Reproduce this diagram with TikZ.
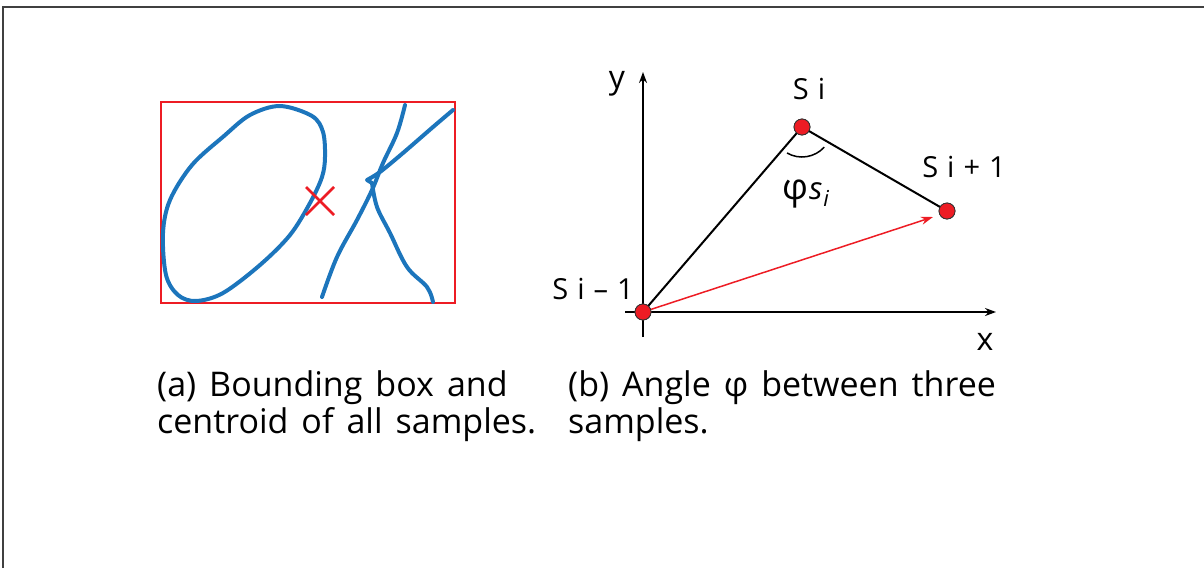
\documentclass[tikz,border=0pt]{standalone}
\usepackage{fontspec}
\setmainfont{Open Sans}
\usetikzlibrary{arrows.meta,calc}
\definecolor{strokeblue}{RGB}{28,117,188}
\definecolor{ptred}{RGB}{237,28,36}
\newcommand{\lblfont}{\fontsize{29}{32}\selectfont\spaceskip=9pt\relax}
\newcommand{\capfont}{\fontsize{34}{37}\selectfont\spaceskip=13pt plus 2pt\relax}
\tikzset{
  ink/.style={strokeblue,line width=4pt,line cap=round,line join=round},
  bbox/.style={draw=ptred,line width=1.5pt},
  seg/.style={black,line width=2pt},
  axis/.style={black,line width=1.8pt,-{Stealth[length=11pt,width=8pt]}},
  sample/.style={circle,fill=ptred,draw=black!80,line width=0.8pt,minimum size=16pt,inner sep=0pt},
  lbl/.style={font=\lblfont,inner sep=0pt},
  captext/.style={font=\capfont,align=left,anchor=north west,inner sep=0pt}
}
\begin{document}
\begin{tikzpicture}[x=1pt,y=-1pt]
\useasboundingbox (0,0) rectangle (1204,568);
% frame
\draw[black!75,line width=1.5pt] (3,568) -- (3,7) -- (1204,7);
% (a) bounding box
\draw[bbox] (161,102) rectangle (455,303);
\draw[ink] plot[smooth cycle,tension=0.55] coordinates {(196,301) (223,293) (260,265) (290,235) (310,203) (322,177) (325,157) (323,132) (312,116) (280,106) (250,115) (224,136) (192,165) (170,200) (163,233) (166,275) (178,295)};
\draw[ink] plot[smooth,tension=0.6] coordinates {(322,297) (337,257) (357,220) (372,190) (383,163) (397,133) (405,105)};
\draw[ink] plot[smooth,tension=0.5] coordinates {(453,110) (433,127) (403,153) (380,172) (367,180)} -- plot[smooth,tension=0.6] coordinates {(372,183) (377,207) (390,233) (407,267) (427,287) (433,302)};
\coordinate (cen) at (320,201);
\draw[ptred,line width=2.5pt] ($(cen)+(-14,-14)$) -- ($(cen)+(14,14)$) ($(cen)+(14,-14)$) -- ($(cen)+(-14,14)$);
% (b) axes
\coordinate (ybot) at (643,337);
\coordinate (ytop) at (643,72);
\coordinate (xl) at (625,312);
\coordinate (xr) at (996,312);
\draw[axis] (ybot) -- (ytop);
\draw[axis] (xl) -- (xr);
\node[sample] (s0) at (643,312) {};
\node[sample] (s1) at (802,127) {};
\node[sample] (s2) at (947,211) {};
\draw[seg] (s0.center) -- (s1.center) -- (s2.center);
\draw[ptred,line width=1.5pt,-{Stealth[length=12pt,width=8pt]}] (s0.center) -- (933,217);
\draw[black,line width=1.5pt] (s1.center) ++(120:30) arc[start angle=120,end angle=42,radius=30];
\node[sample] at (s0) {};
\node[sample] at (s1) {};
\node[sample] at (s2) {};
\node[lbl,font=\fontsize{32}{34}\selectfont] (ly) at (617,84) {y};
\node[lbl,font=\fontsize{32}{34}\selectfont] (lx) at (985,342) {x};
\node[lbl] (l1) at (809,89) {S i};
\node[lbl] (l2) at (964,167) {S i + 1};
\node[lbl] (l0) at (593,289) {S i – 1};
\node[lbl,anchor=base west] (lphi) at (782,199) {{\fontsize{36}{40}\selectfont φ}\kern1pt{\fontsize{31}{34}\selectfont\textit{s}}\kern1pt\raisebox{-7pt}{\fontsize{22}{24}\selectfont\textit{i}}};
% captions
\node[captext] (ca) at (157,370) {(a) Bounding box and\\centroid of all samples.};
\node[captext] (cb) at (568,370) {(b) Angle φ between three\\samples.};
\end{tikzpicture}
\end{document}
